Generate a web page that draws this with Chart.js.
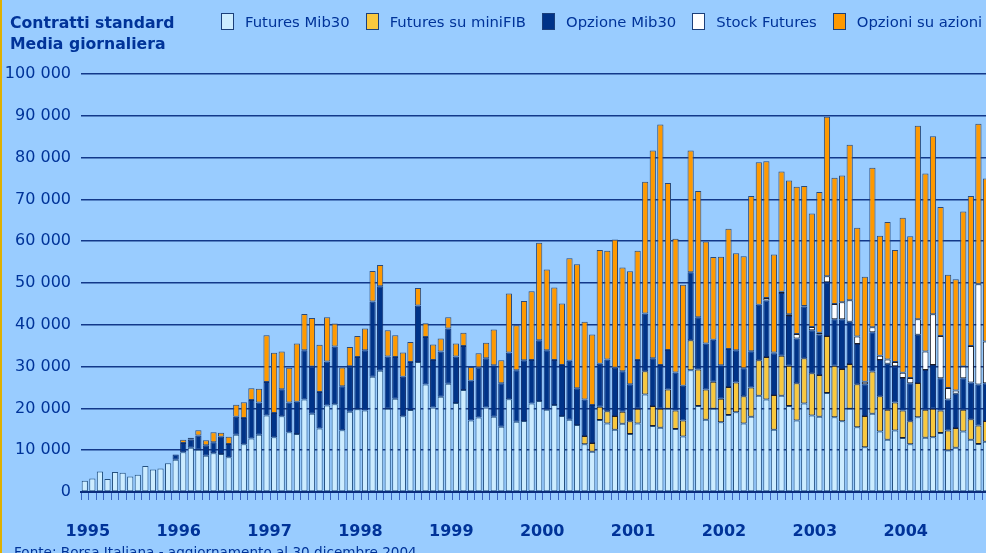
<!DOCTYPE html>
<html lang="it">
<head>
<meta charset="utf-8">
<title>Contratti standard - Media giornaliera</title>
<script src="https://cdn.jsdelivr.net/npm/chart.js@4.4.0/dist/chart.umd.min.js"></script>
<style>
html, body { margin: 0; padding: 0; }
body {
    width: 986px; height: 553px; overflow: hidden; position: relative;
    background: #99ccff; color: #003399;
    font-family: "DejaVu Sans", Verdana, sans-serif;
}
#wrap { position: absolute; left: 0; top: 0; width: 1008px; height: 553px; }
#edge { position: absolute; left: 0; top: 0; width: 2px; height: 553px; background: #e0b000; }
#title { position: absolute; left: 10px; top: 12px; font-weight: bold; font-size: 15.7px; line-height: 21px; }
#legend { position: absolute; left: 221px; top: 13px; display: flex; white-space: nowrap; font-size: 14.8px; line-height: 17px; }
.item { display: flex; align-items: center; margin-right: 16px; }
.box { width: 11px; height: 15px; border: 1px solid #1b3f7a; margin-right: 11px; }
#footer { position: absolute; left: 14px; top: 544px; font-size: 13.6px; line-height: 16px; white-space: nowrap; }
</style>
</head>
<body>
<div id="wrap"><canvas id="chart" width="1008" height="553"></canvas></div>
<div id="edge"></div>
<div id="title">Contratti standard<br>Media giornaliera</div>
<div id="legend"></div>
<div id="footer">Fonte: Borsa Italiana - aggiornamento al 30 dicembre 2004</div>
<script>
// anni e mesi (gen 1995 - dic 2004)
const years = ["1995", "1996", "1997", "1998", "1999", "2000", "2001", "2002", "2003", "2004"];
const months = ["gen", "feb", "mar", "apr", "mag", "giu", "lug", "ago", "set", "ott", "nov", "dic"];

const futuresMib30 = [
    2700, 3200, 4900, 3100, 4800, 4600, 3700, 4100, 6200, 5400, 5600, 6900,
    7700, 9500, 10600, 10100, 8700, 9300, 9100, 8300, 13700, 11400, 12800, 13700,
    18300, 13100, 18100, 14300, 13900, 22100, 18700, 15200, 20700, 21000, 14800, 19200,
    19800, 19500, 27600, 29000, 19900, 22300, 18100, 19600, 31100, 25700, 20200, 22800,
    25900, 21300, 24400, 17100, 17800, 20200, 18000, 15600, 22200, 16800, 17000, 21200,
    21800, 19700, 20800, 18200, 17300, 16000, 11400, 9600, 17200, 16400, 14900, 16300,
    13900, 16400, 23300, 15800, 15400, 19900, 15100, 13300, 29100, 20600, 17300, 19900,
    16700, 18400, 19100, 16400, 18000, 23000, 22100, 14900, 23000, 20600, 17100, 21200,
    18300, 18000, 23700, 17900, 16900, 19900, 15500, 10700, 18700, 14500, 12500, 14700,
    12900, 11400, 17900, 13000, 13100, 14100, 9900, 10600, 14500, 12500, 11500, 12000
];
const futuresMiniFib = [
    0, 0, 0, 0, 0, 0, 0, 0, 0, 0, 0, 0,
    0, 0, 0, 0, 0, 0, 0, 0, 0, 0, 0, 0,
    0, 0, 0, 0, 0, 0, 0, 0, 0, 0, 0, 0,
    0, 0, 0, 0, 0, 0, 0, 0, 0, 0, 0, 0,
    0, 0, 0, 0, 0, 0, 0, 0, 0, 0, 0, 0,
    0, 0, 0, 0, 0, 0, 2000, 2100, 3200, 2900, 3300, 2900,
    3000, 3500, 5600, 4800, 4500, 4600, 4400, 3800, 7200, 8700, 7200, 6500,
    5600, 6700, 7100, 6500, 7000, 8500, 10200, 8300, 9600, 9600, 8900, 10800,
    10100, 10000, 13600, 12300, 12500, 10700, 10300, 7500, 10100, 8400, 7200, 6700,
    6600, 5500, 8200, 6700, 6800, 5400, 4800, 4700, 5200, 4900, 4400, 5000
];
const opzioneMib30 = [
    0, 0, 0, 0, 0, 0, 0, 0, 0, 0, 0, 0,
    1300, 2200, 1900, 3400, 2500, 2600, 4100, 3200, 4300, 6300, 9200, 7700,
    8000, 5800, 6500, 7100, 7700, 11800, 11300, 8700, 10500, 13800, 10500, 10900,
    12500, 14400, 18000, 20200, 12500, 10000, 9500, 11500, 13500, 11400, 11400, 10800,
    13200, 11100, 10500, 9500, 12000, 11800, 12300, 10400, 11200, 12300, 14500, 10400,
    14500, 14200, 10800, 12200, 14100, 8800, 8700, 9100, 10300, 12400, 11500, 9700,
    8900, 11700, 13800, 11400, 10500, 9500, 9100, 8300, 16300, 12500, 11000, 10000,
    8000, 9100, 7700, 6700, 8700, 13300, 13500, 10000, 15000, 11900, 10700, 12400,
    10300, 9700, 12900, 11100, 11900, 10100, 9600, 7600, 9400, 8700, 11000, 8700,
    7800, 9100, 11500, 9500, 10500, 7700, 7400, 8200, 7500, 8800, 9800, 9000
];
const stockFutures = [
    0, 0, 0, 0, 0, 0, 0, 0, 0, 0, 0, 0,
    0, 0, 0, 0, 0, 0, 0, 0, 0, 0, 0, 0,
    0, 0, 0, 0, 0, 0, 0, 0, 0, 0, 0, 0,
    0, 0, 0, 0, 0, 0, 0, 0, 0, 0, 0, 0,
    0, 0, 0, 0, 0, 0, 0, 0, 0, 0, 0, 0,
    0, 0, 0, 0, 0, 0, 0, 0, 0, 0, 0, 0,
    0, 0, 0, 0, 0, 0, 0, 0, 0, 0, 0, 0,
    0, 0, 0, 0, 0, 0, 600, 200, 300, 400, 1100, 100,
    800, 400, 1400, 3700, 4100, 5200, 1800, 600, 1200, 1000, 1000, 1000,
    1200, 1300, 3700, 4400, 12100, 10100, 2800, 800, 2800, 8700, 24000, 10000
];
const opzioniAzioni = [
    0, 0, 0, 0, 0, 0, 0, 0, 0, 0, 0, 0,
    0, 800, 500, 1300, 1200, 2400, 1000, 1700, 2900, 3800, 2800, 3300,
    11200, 14400, 9000, 8300, 13900, 8700, 11600, 11300, 10600, 5500, 4500, 4600,
    5000, 5200, 7300, 5100, 6300, 5200, 5800, 4800, 4200, 3300, 3700, 3100,
    2700, 3100, 3200, 3300, 3400, 3700, 8600, 5500, 14100, 10800, 14200, 16400,
    23300, 19300, 17300, 14700, 24500, 29700, 18600, 16900, 27200, 26000, 30700, 24800,
    27000, 26100, 31500, 49700, 57500, 39900, 32000, 24200, 29100, 30200, 24400, 19800,
    26000, 28800, 23200, 26800, 37100, 34100, 32700, 23400, 28800, 32000, 35200, 28700,
    27100, 33700, 38200, 30200, 30300, 37200, 26000, 25100, 38200, 28700, 32900, 26800,
    37100, 33900, 46300, 42600, 42600, 30900, 27100, 26600, 37100, 35900, 38400, 39000
];

const labels = [];
years.forEach(y => months.forEach(m => labels.push(m + " " + y)));

function makeSet(label, values, fill, border) {
    return {
        label: label,
        data: values.map(v => v === 0 ? null : v),
        backgroundColor: fill,
        borderColor: border,
        borderWidth: 1,
        borderSkipped: false,
        barPercentage: 0.82,
        categoryPercentage: 1
    };
}

function formatNumber(v) {
    return String(v).replace(/\B(?=(\d{3})+(?!\d))/g, " ");
}

const datasets = [
    makeSet("Futures Mib30", futuresMib30, "#ccecff", "#24507f"),
    makeSet("Futures su miniFIB", futuresMiniFib, "#f9c83e", "#1e1e28"),
    makeSet("Opzione Mib30", opzioneMib30, "#003388", "#0d2b6b"),
    makeSet("Stock Futures", stockFutures, "#ffffff", "#1e1e28"),
    makeSet("Opzioni su azioni", opzioniAzioni, "#ff9900", "#2a4a7a")
];

const tickFont = { family: "'DejaVu Sans', Verdana, sans-serif", size: 16 };

new Chart(document.getElementById("chart"), {
    type: "bar",
    data: { labels: labels, datasets: datasets },
    options: {
        responsive: false,
        animation: false,
        layout: { padding: { top: 74, left: 5, right: 0, bottom: 12 } },
        plugins: { legend: { display: false }, tooltip: { enabled: false } },
        scales: {
            x: {
                stacked: true,
                offset: true,
                afterFit: scale => { scale.height = 49; },
                grid: { display: true, drawOnChartArea: false, drawTicks: true, tickLength: 8, color: "#3a66c4", lineWidth: 1, offset: true },
                border: { display: true, color: "#0b2c7c", width: 2 },
                ticks: {
                    autoSkip: false, maxRotation: 0, minRotation: 0,
                    padding: 22, labelOffset: 3, color: "#003399",
                    font: Object.assign({}, tickFont, { weight: "bold" }),
                    callback: (v, i) => i % 12 === 0 ? years[i / 12] : ""
                }
            },
            y: {
                stacked: true,
                min: 0,
                max: 100000,
                afterFit: scale => { scale.width = 76; },
                grid: { color: "#12388a", lineWidth: 1.5, drawTicks: false },
                border: { display: false },
                ticks: { stepSize: 10000, padding: 10, color: "#003399", font: tickFont, callback: v => formatNumber(v) }
            }
        }
    }
});

// legenda
const legend = document.getElementById("legend");
datasets.forEach(ds => {
    const item = document.createElement("div");
    item.className = "item";
    const box = document.createElement("span");
    box.className = "box";
    box.style.background = ds.backgroundColor;
    const txt = document.createElement("span");
    txt.textContent = ds.label;
    item.appendChild(box);
    item.appendChild(txt);
    legend.appendChild(item);
});
</script>
</body>
</html>
